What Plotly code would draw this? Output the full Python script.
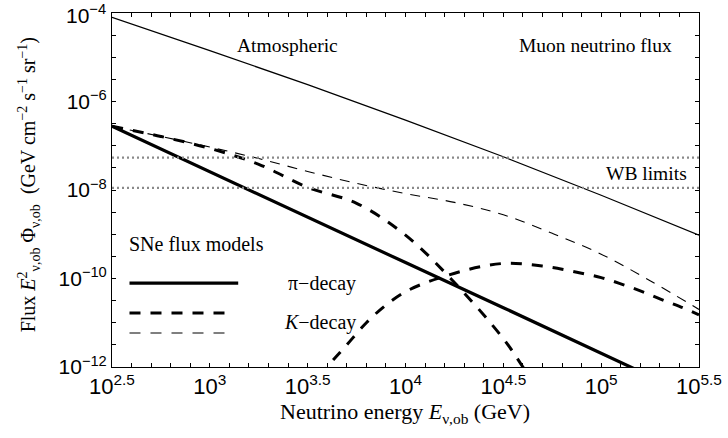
import plotly.graph_objects as go

# ---- data (log10 values) ----
atm_logE = [2.5, 3.0, 3.5, 4.0, 4.5, 5.0, 5.5]
atm_logF = [-4.10, -4.85, -5.62, -6.42, -7.25, -8.12, -9.02]

pi_logE = [2.5, 3.0, 3.5, 4.0, 4.5, 5.0, 5.5]
pi_logF = [-6.56, -7.59, -8.61, -9.64, -10.66, -11.69, -12.72]

k1_logE = [2.5, 2.75, 3.0, 3.25, 3.5, 3.75, 4.0, 4.25, 4.5, 4.6, 4.7]
k1_logF = [-6.56, -6.79, -7.06, -7.42, -7.94, -8.30, -9.02, -10.09, -11.36, -12.0, -12.7]

k2_logE = [3.5, 3.6, 3.7, 3.8, 3.9, 4.0, 4.1, 4.2, 4.3, 4.4, 4.5, 4.6, 4.7,
           4.8, 4.9, 5.0, 5.1, 5.2, 5.3, 5.4, 5.5]
k2_logF = [-12.6, -12.0, -11.5, -11.0, -10.6, -10.3, -10.1, -9.95, -9.82, -9.72,
           -9.66, -9.67, -9.72, -9.79, -9.88, -9.98, -10.12, -10.28, -10.46, -10.63, -10.82]

kt_logE = [2.5, 2.75, 3.0, 3.25, 3.5, 3.75, 4.0, 4.25, 4.5, 4.75, 5.0, 5.25, 5.5]
kt_logF = [-6.56, -6.79, -7.03, -7.29, -7.58, -7.85, -8.08, -8.28, -8.56, -8.98,
           -9.45, -10.05, -10.70]

wb_logF = [-7.27, -7.95]

x_tick_exps = [2.5, 3, 3.5, 4, 4.5, 5, 5.5]
x_tick_text = ["10<sup>2.5</sup>", "10<sup>3</sup>", "10<sup>3.5</sup>", "10<sup>4</sup>",
               "10<sup>4.5</sup>", "10<sup>5</sup>", "10<sup>5.5</sup>"]
y_tick_exps = [-6, -8, -10, -12]
y_tick_text = ["10<sup>−6</sup>", "10<sup>−8</sup>", "10<sup>−10</sup>", "10<sup>−12</sup>"]
y_top_label = "10<sup>−4</sup>"   # top tick label, placed so it stays inside the page

def p10(v):
    return [10 ** a for a in v]

fig = go.Figure()
fig.add_trace(go.Scatter(x=p10(atm_logE), y=p10(atm_logF), mode="lines",
                         line=dict(color="black", width=1.2, shape="spline")))
fig.add_trace(go.Scatter(x=p10(pi_logE), y=p10(pi_logF), mode="lines",
                         line=dict(color="black", width=3.2)))
fig.add_trace(go.Scatter(x=p10(k1_logE), y=p10(k1_logF), mode="lines",
                         line=dict(color="black", width=3, dash="11px,10px", shape="spline")))
fig.add_trace(go.Scatter(x=p10(k2_logE), y=p10(k2_logF), mode="lines",
                         line=dict(color="black", width=3, dash="11px,10px", shape="spline")))
fig.add_trace(go.Scatter(x=p10(kt_logE), y=p10(kt_logF), mode="lines",
                         line=dict(color="black", width=1.1, dash="10px,8px", shape="spline")))
for w in wb_logF:
    fig.add_trace(go.Scatter(x=[10 ** 2.5, 10 ** 5.5], y=[10 ** w, 10 ** w], mode="lines",
                             line=dict(color="#8a8a8a", width=2.2, dash="2px,3px")))

# ticks: labeled majors + unlabeled minors
xt_vals, xt_text = [], []
for k in range(31):
    e = round(2.5 + 0.1 * k, 2)
    xt_vals.append(10 ** e)
    xt_text.append(x_tick_text[x_tick_exps.index(e)] if e in x_tick_exps else "")
yt_vals, yt_text = [], []
for k in range(17):
    e = -4 - 0.5 * k
    yt_vals.append(10 ** e)
    yt_text.append(y_tick_text[y_tick_exps.index(e)] if e in y_tick_exps else "")

common = dict(ticks="inside", ticklen=4, tickcolor="black", showline=True, linecolor="black",
              linewidth=1, mirror="allticks", showgrid=False, zeroline=False,
              automargin=False, ticklabeloverflow="allow")
fig.update_xaxes(type="log", range=[2.5, 5.5], tickvals=xt_vals, ticktext=xt_text,
                 tickfont=dict(family="Liberation Sans, Arial", size=22, color="black"), **common)
fig.update_yaxes(type="log", range=[-12, -4], tickvals=yt_vals, ticktext=yt_text,
                 tickfont=dict(family="Liberation Sans, Arial", size=21, color="black"), **common)

serif = "Liberation Serif, Times New Roman, serif"
ann = []
def txt(x, y, s, size=19.5, xanchor="center", angle=0, family=serif, yanchor="middle"):
    ann.append(dict(x=x, y=y, xref="paper", yref="paper", text=s, showarrow=False,
                    font=dict(family=family, size=size, color="black"),
                    xanchor=xanchor, yanchor=yanchor, textangle=angle))

txt(-0.006, 1.04, y_top_label, size=21, xanchor="right", yanchor="top",
    family="Liberation Sans, Arial")
txt(0.2985, 0.907, "Atmospheric")
txt(0.824, 0.907, "Muon neutrino flux")
txt(0.911, 0.548, "WB limits")
txt(0.1437, 0.347, "SNe flux models", size=20)
txt(0.297, 0.237, "π−decay", xanchor="left", size=20)
txt(0.290, 0.127, "<i>K</i>−decay", xanchor="left", size=20)
txt(0.499, -0.13, "Neutrino energy <i>E</i><sub>ν,ob</sub> (GeV)", size=22)
txt(-0.142, 0.515,
    "Flux <i>E</i><sup>2</sup><sub>ν,ob</sub> Φ<sub>ν,ob</sub>  (GeV cm<sup>−2</sup> s<sup>−1</sup> sr<sup>−1</sup>)",
    size=20, angle=-90)

shapes = [
    dict(type="line", xref="paper", yref="paper", x0=0.0298, x1=0.215, y0=0.237, y1=0.237,
         line=dict(color="black", width=3.2)),
    dict(type="line", xref="paper", yref="paper", x0=0.0298, x1=0.198, y0=0.1525, y1=0.1525,
         line=dict(color="black", width=3, dash="11px,10px")),
    dict(type="line", xref="paper", yref="paper", x0=0.0298, x1=0.198, y0=0.096, y1=0.096,
         line=dict(color="black", width=1.1, dash="11px,10px")),
]

fig.update_layout(width=728, height=438, margin=dict(l=111.5, r=28.5, t=13, b=71),
                  paper_bgcolor="white", plot_bgcolor="white", showlegend=False,
                  annotations=ann, shapes=shapes)
fig.write_html("out.html")
